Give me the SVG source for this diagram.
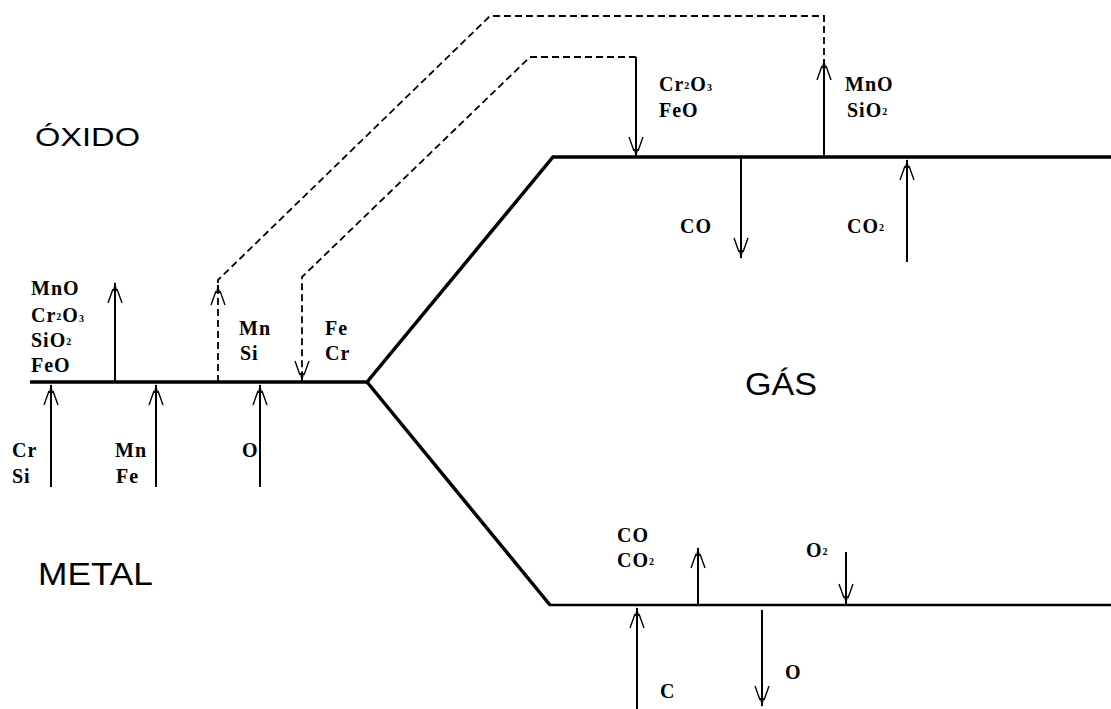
<svg xmlns="http://www.w3.org/2000/svg" width="1111" height="709" viewBox="0 0 1111 709">
<style>
.lbl{font-family:"Liberation Serif","Times New Roman",serif;font-weight:bold;font-size:20px;fill:#000;letter-spacing:1px}
.sub{font-size:10px}
.big{font-family:"Liberation Sans",Arial,sans-serif;fill:#000}
.thick{fill:none;stroke:#000;stroke-width:3.5;stroke-linejoin:miter}
.mid{fill:none;stroke:#000;stroke-width:2.4}
.arr{fill:none;stroke:#000;stroke-width:2;marker-end:url(#ah)}
.dash{fill:none;stroke:#000;stroke-width:1.8;stroke-dasharray:7 4}
</style>
<defs>
<marker id="ah" markerUnits="userSpaceOnUse" orient="auto" markerWidth="30" markerHeight="30" refX="0" refY="0" overflow="visible">
<path d="M-20,-7 L-6,-2 M-20,7 L-6,2" stroke="#000" stroke-width="1.4" fill="none"/>
<path d="M1,0 L-8,-2.2 L-8,2.2 Z" fill="#000"/>
</marker>
</defs>
<rect width="1111" height="709" fill="#fff"/>

<g id="interfaces">
<path class="thick" d="M30,382 H367 L553,157 H1111"/>
<path class="thick" d="M367,382 L550,605"/>
<path class="mid" d="M549,605 H1111"/>
</g>

<g id="connectors">
<!-- oxide/metal interface -->
<path class="arr" d="M51,487 V385"/>
<path class="arr" d="M156,487 V385"/>
<path class="arr" d="M260,487 V385"/>
<path class="arr" d="M115,382 V283"/>
<!-- dashed transfers -->
<path class="dash" d="M218,382 V280 L490,16 H824 V60"/>
<path class="arr" d="M218,292 V285"/>
<path class="dash" d="M636,57 H530 L302,277 V372"/>
<path class="arr" d="M302,372 V381"/>
<!-- oxide/gas interface -->
<path class="arr" d="M636,57 V157"/>
<path class="arr" d="M824,157 V60"/>
<path class="arr" d="M741,158 V258"/>
<path class="arr" d="M907,262 V160"/>
<!-- metal/gas interface -->
<path class="arr" d="M637,709 V608"/>
<path class="arr" d="M698,605 V548"/>
<path class="arr" d="M846,552 V604"/>
<path class="arr" d="M762,610 V706"/>
</g>

<g id="oxido">
<text class="big" x="35" y="146" font-size="25" textLength="105" lengthAdjust="spacingAndGlyphs">ÓXIDO</text>
</g>
<g id="metal">
<text class="big" x="38" y="585" font-size="31" textLength="115" lengthAdjust="spacingAndGlyphs">METAL</text>
</g>
<g id="gas">
<text class="big" x="745" y="395" font-size="31" textLength="72" lengthAdjust="spacingAndGlyphs">GÁS</text>
</g>

<g id="labels-oxide-top">
<text class="lbl" x="659" y="91">Cr<tspan class="sub" dy="-2">2</tspan><tspan dy="2">O</tspan><tspan class="sub">3</tspan></text>
<text class="lbl" x="659" y="117">FeO</text>
<text class="lbl" x="845" y="91">MnO</text>
<text class="lbl" x="847" y="117">SiO<tspan class="sub" dy="-2">2</tspan></text>
</g>

<g id="labels-oxide-left">
<text class="lbl" x="31" y="295">MnO</text>
<text class="lbl" x="31" y="322">Cr<tspan class="sub" dy="-2">2</tspan><tspan dy="2">O</tspan><tspan class="sub">3</tspan></text>
<text class="lbl" x="31" y="347">SiO<tspan class="sub" dy="-2">2</tspan></text>
<text class="lbl" x="31" y="372">FeO</text>
<text class="lbl" x="239" y="335">Mn</text>
<text class="lbl" x="240" y="360">Si</text>
<text class="lbl" x="325" y="335">Fe</text>
<text class="lbl" x="325" y="360">Cr</text>
</g>

<g id="labels-metal-left">
<text class="lbl" x="12" y="457">Cr</text>
<text class="lbl" x="12" y="483">Si</text>
<text class="lbl" x="115" y="457">Mn</text>
<text class="lbl" x="116" y="483">Fe</text>
<text class="lbl" x="242" y="457">O</text>
</g>

<g id="labels-gas-top">
<text class="lbl" x="680" y="233">CO</text>
<text class="lbl" x="847" y="233">CO<tspan class="sub" dy="-2">2</tspan></text>
</g>

<g id="labels-gas-bottom">
<text class="lbl" x="617" y="542">CO</text>
<text class="lbl" x="617" y="567">CO<tspan class="sub" dy="-2">2</tspan></text>
<text class="lbl" x="806" y="557">O<tspan class="sub" dy="-2">2</tspan></text>
<text class="lbl" x="660" y="698">C</text>
<text class="lbl" x="785" y="679">O</text>
</g>
</svg>
